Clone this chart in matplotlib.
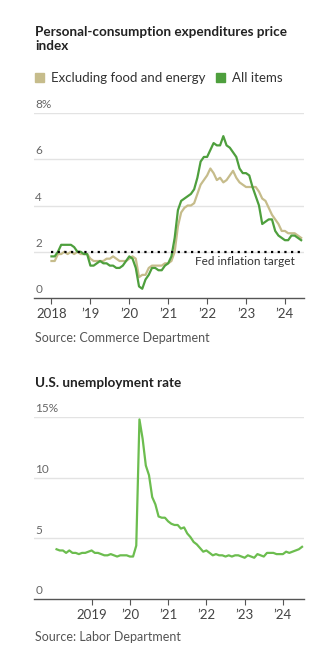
import numpy as np
import matplotlib.pyplot as plt
from matplotlib.patches import Rectangle

plt.rcParams['font.family'] = ['Lato', 'DejaVu Sans']

# Datos PCE (variacion anual %, ene 2018 - jun 2024)
pce_all = [1.8, 1.8, 2.0, 2.3, 2.3, 2.3, 2.3, 2.2, 2.0, 2.0, 1.9, 1.9,
           1.4, 1.4, 1.5, 1.6, 1.5, 1.5, 1.4, 1.4, 1.3, 1.3, 1.4, 1.6,
           1.8, 1.7, 1.3, 0.5, 0.4, 0.8, 1.0, 1.3, 1.3, 1.2, 1.2, 1.4,
           1.5, 1.8, 2.6, 3.8, 4.2, 4.3, 4.4, 4.5, 4.7, 5.2, 5.9, 6.1,
           6.1, 6.4, 6.7, 6.6, 6.6, 7.0, 6.6, 6.5, 6.3, 6.1, 5.6, 5.4,
           5.4, 5.3, 4.8, 4.4, 4.0, 3.2, 3.3, 3.4, 3.4, 2.9, 2.7, 2.6,
           2.5, 2.5, 2.7, 2.7, 2.6, 2.5]
pce_core = [1.6, 1.6, 1.9, 1.9, 2.0, 1.9, 2.0, 1.9, 2.0, 1.9, 1.9, 1.9,
            1.7, 1.6, 1.6, 1.6, 1.6, 1.7, 1.7, 1.8, 1.7, 1.6, 1.6, 1.6,
            1.7, 1.8, 1.7, 0.9, 1.0, 1.0, 1.3, 1.4, 1.4, 1.4, 1.4, 1.5,
            1.5, 1.6, 2.0, 3.1, 3.7, 3.9, 4.0, 4.0, 4.1, 4.5, 4.9, 5.1,
            5.3, 5.6, 5.4, 5.1, 5.2, 5.0, 5.1, 5.3, 5.5, 5.2, 5.0, 4.9,
            4.8, 4.8, 4.8, 4.8, 4.6, 4.3, 4.2, 3.9, 3.6, 3.4, 3.2, 2.9,
            2.9, 2.8, 2.8, 2.8, 2.7, 2.6]

# Desempleo (%, feb 2018 - jul 2024)
desempleo = [4.1, 4.0, 4.0, 3.8, 4.0, 3.8, 3.8, 3.7, 3.8, 3.8, 3.9,
             4.0, 3.8, 3.8, 3.7, 3.6, 3.6, 3.7, 3.6, 3.5, 3.6, 3.6, 3.6,
             3.5, 3.5, 4.4, 14.8, 13.2, 11.0, 10.2, 8.4, 7.8, 6.8, 6.7, 6.7,
             6.4, 6.2, 6.1, 6.1, 5.8, 5.9, 5.4, 5.1, 4.7, 4.5, 4.2, 3.9,
             4.0, 3.8, 3.6, 3.7, 3.6, 3.6, 3.5, 3.6, 3.5, 3.6, 3.6, 3.5,
             3.4, 3.6, 3.5, 3.4, 3.7, 3.6, 3.5, 3.8, 3.8, 3.8, 3.7, 3.7,
             3.7, 3.9, 3.8, 3.9, 4.0, 4.1, 4.3]

t_pce = 2018 + np.arange(len(pce_all)) / 12
t_des = 2018 + (1 + np.arange(len(desempleo))) / 12

ticks_pce = [2018, 2019, 2020, 2021, 2022, 2023, 2024]
etiq_pce = ['2018', "\u201919", "\u201920", "\u201921", "\u201922", "\u201923", "\u201924"]
ticks_des = [2019, 2020, 2021, 2022, 2023, 2024]
etiq_des = ['2019', "\u201920", "\u201921", "\u201922", "\u201923", "\u201924"]

verde = '#4e9f3d'
verde_claro = '#6cbd4f'
beige = '#c6bc8b'
gris = '#555555'

W, H = 327, 653
fig = plt.figure(figsize=(W / 100, H / 100), dpi=100)

def caja(x0, y0, x1, y1):
    # convierte pixeles a fraccion de figura
    return [x0 / W, 1 - y1 / H, (x1 - x0) / W, (y1 - y0) / H]

def estilo(ax, yticks, ylabels, ticks, etiquetas, ymax):
    ax.set_ylim(0, ymax)
    for s in ['top', 'right', 'left']:
        ax.spines[s].set_visible(False)
    ax.spines['bottom'].set_color(gris)
    ax.spines['bottom'].set_linewidth(1)
    ax.set_yticks([])
    for v, lab in zip(yticks, ylabels):
        if v > 0:
            ax.axhline(v, color='#e3e3e3', lw=1, zorder=0)
        ax.annotate(lab, (0, v), xycoords=('axes fraction', 'data'),
                    xytext=(1, 2), textcoords='offset points',
                    fontsize=8.5, color='#666666', va='bottom', ha='left')
    ax.set_xticks(ticks)
    ax.set_xticklabels(etiquetas)
    ax.tick_params(axis='x', length=4, width=0.8, color=gris,
                   labelsize=9.5, labelcolor='#444444', pad=3)

# --- PCE ---
ax1 = fig.add_axes(caja(34, 113, 304, 298))
ax1.set_xlim(2017.551, 2024.49)
estilo(ax1, [0, 2, 4, 6, 8], ['0', '2', '4', '6', '8%'], ticks_pce, etiq_pce, 8)
ax1.plot(t_pce, pce_core, color=beige, lw=1.6, zorder=3, clip_on=False)
ax1.plot(t_pce, pce_all, color=verde, lw=1.6, zorder=4, clip_on=False)
ax1.plot([2018, 2024.49], [2, 2], color='black', lw=1.6,
         linestyle=(0, (1, 2)), zorder=5)
ax1.text(2024.25, 1.6, 'Fed inflation target', fontsize=8.5,
         color='#333333', ha='right', va='center')

fig.text(35 / W, 1 - 39 / H, 'Personal-consumption expenditures price\nindex',
         fontsize=9.7, fontweight='bold', color='#222222',
         va='center', ha='left', linespacing=1.3)

# leyenda
fig.patches.append(Rectangle((35 / W, 1 - 82 / H), 9 / W, 9 / H,
                             transform=fig.transFigure, color=beige))
fig.text(51 / W, 1 - 77.5 / H, 'Excluding food and energy', fontsize=9.5,
         color='#333333', va='center')
fig.patches.append(Rectangle((216 / W, 1 - 82 / H), 9 / W, 9 / H,
                             transform=fig.transFigure, color=verde))
fig.text(232 / W, 1 - 77.5 / H, 'All items', fontsize=9.5,
         color='#333333', va='center')

fig.text(35 / W, 1 - 338 / H, 'Source: Commerce Department', fontsize=9,
         color=gris, va='center')

# --- Desempleo ---
ax2 = fig.add_axes(caja(34, 417, 304, 599))
ax2.set_xlim(2017.494, 2024.551)
estilo(ax2, [0, 5, 10, 15], ['0', '5', '10', '15%'], ticks_des, etiq_des, 15)
ax2.plot(t_des, desempleo, color=verde_claro, lw=1.6, zorder=4, clip_on=False)

fig.text(35 / W, 1 - 383 / H, 'U.S. unemployment rate', fontsize=9.7,
         fontweight='bold', color='#222222', va='center')
fig.text(35 / W, 1 - 637 / H, 'Source: Labor Department', fontsize=9,
         color=gris, va='center')

plt.savefig('out.png', dpi=100)
